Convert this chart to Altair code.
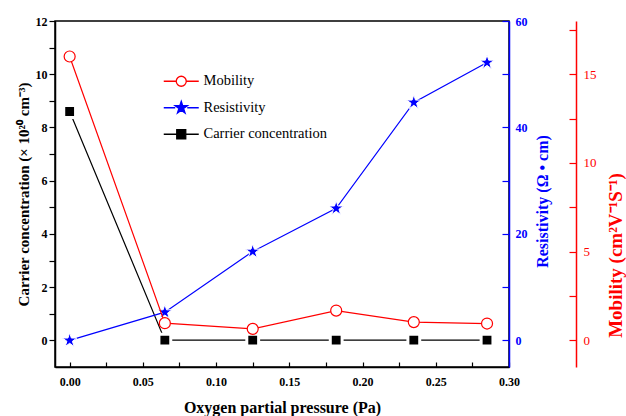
import altair as alt
import pandas as pd

# ---------------- data ----------------
pressure = [0.0, 0.065, 0.125, 0.182, 0.235, 0.285]
carrier = [8.6, 0.01, 0.01, 0.01, 0.01, 0.01]
resistivity = [0.0, 5.3, 16.7, 24.8, 44.7, 52.2]
mobility = [16.0, 0.97, 0.65, 1.68, 1.03, 0.95]

series_names = ["Mobility", "Resistivity", "Carrier concentration"]

x_ticks = [0.0, 0.025, 0.05, 0.075, 0.1, 0.125, 0.15, 0.175, 0.2, 0.225, 0.25, 0.275, 0.3]
carrier_ticks = [0, 1, 2, 3, 4, 5, 6, 7, 8, 9, 10, 11, 12]
resist_ticks = [0, 10, 20, 30, 40, 50, 60]
mobility_ticks = [0, 2.5, 5, 7.5, 10, 12.5, 15, 17.5]

# ---------------- styles ----------------
FONT = "Liberation Serif"
RED = "#ff0000"
BLUE = "#0000ff"
BLACK = "#000000"

STAR = ("M0,-1L0.225,-0.309L0.951,-0.309L0.363,0.118L0.588,0.809L0,0.382"
        "L-0.588,0.809L-0.363,0.118L-0.951,-0.309L-0.225,-0.309Z")
LEG_CIRCLE = "M-3.5,0H-1.05M1.05,0H3.5M1,0A1,1,0,1,1,-1,0A1,1,0,1,1,1,0Z"
LEG_STAR = ("M-3.5,0H-1.2M1.2,0H3.5"
            "M0,-1.3L0.29,-0.4L1.24,-0.4L0.47,0.15L0.76,1.05L0,0.5"
            "L-0.76,1.05L-0.47,0.15L-1.24,-0.4L-0.29,-0.4Z")
LEG_SQUARE = "M-3.5,0H-0.9M0.9,0H3.5M-0.9,-0.9H0.9V0.9H-0.9Z"

df = pd.DataFrame({
    "pressure": pressure,
    "carrier": carrier,
    "resistivity": resistivity,
    "mobility": mobility,
})

W, H = 454, 346

x_enc = alt.X(
    "pressure:Q",
    scale=alt.Scale(domain=[-0.01, 0.30], nice=False, zero=False),
    axis=alt.Axis(
        title="Oxygen partial pressure (Pa)",
        values=x_ticks,
        labelExpr="round(datum.value*1000) % 50 == 0 ? format(datum.value, '.2f') : ''",
        grid=False, labelFlush=False, labelOverlap=False,
        tickSize=alt.ExprRef(expr="-5"), tickWidth=1.2, tickColor=BLACK,
        labelPadding=14, labelFont=FONT, labelFontSize=12, labelFontWeight="bold",
        labelColor=BLACK,
        domainColor=BLACK, domainWidth=1.5,
        titleFont=FONT, titleFontSize=16, titleFontWeight="bold", titleColor=BLACK,
        titleX=227, titleY=40, titleBaseline="middle",
    ),
)

# ---- carrier concentration (left axis) ----
y_carrier = alt.Y(
    "carrier:Q",
    scale=alt.Scale(domain=[-1, 12], nice=False, zero=False),
    axis=alt.Axis(
        title="Carrier concentration (× 10²⁰ cm⁻³)",
        orient="left",
        values=carrier_ticks,
        labelExpr="datum.value % 2 == 0 ? datum.label : ''",
        grid=False, labelFlush=False, labelOverlap=False,
        tickSize=6, tickWidth=1.2, tickColor=BLACK, labelPadding=2,
        labelFont=FONT, labelFontSize=12, labelFontWeight="bold", labelColor=BLACK,
        domainColor=BLACK, domainWidth=1.5,
        titleFont=FONT, titleFontSize=15, titleFontWeight="bold", titleColor=BLACK,
        titleAngle=270, titleX=-24, titleY=173, titleBaseline="bottom", titleAlign="center",
    ),
)
carrier_base = alt.Chart(df).encode(x=x_enc, y=y_carrier)
carrier_line = carrier_base.mark_line(color=BLACK, strokeWidth=1.2)
carrier_pts = carrier_base.mark_point(shape="square", filled=True, size=140,
                                      fill=BLACK, stroke="white", strokeWidth=3, opacity=1)

legend = alt.Legend(
    title=None, orient="none", legendX=119, legendY=53, padding=0,
    symbolSize=100, symbolStrokeWidth=1.3, symbolOpacity=1,
    labelFont=FONT, labelFontSize=14.5,
    labelFontWeight="normal", labelColor=BLACK, labelOffset=15, rowPadding=9.5,
)
legend_df = pd.DataFrame({"series": series_names})
legend_layer = (
    alt.Chart(legend_df)
    .transform_filter("false")
    .mark_point(filled=True, size=100, opacity=1)
    .encode(
        shape=alt.Shape("series:N", scale=alt.Scale(domain=series_names,
                        range=[LEG_CIRCLE, LEG_STAR, LEG_SQUARE]), legend=legend),
        fill=alt.Fill("series:N", scale=alt.Scale(domain=series_names,
                      range=["white", BLUE, BLACK]), legend=legend),
        stroke=alt.Stroke("series:N", scale=alt.Scale(domain=series_names,
                          range=[RED, BLUE, BLACK]), legend=legend),
    )
)
carrier_layer = alt.layer(carrier_line, carrier_pts, legend_layer)

# ---- resistivity (right, blue) ----
y_resist = alt.Y(
    "resistivity:Q",
    scale=alt.Scale(domain=[-5, 60], nice=False, zero=False),
    axis=alt.Axis(
        title="Resistivity (Ω • cm)",
        orient="right",
        values=resist_ticks,
        labelExpr="datum.value % 20 == 0 ? datum.label : ''",
        grid=False, labelFlush=False, labelOverlap=False,
        tickSize=alt.ExprRef(expr="-7"), tickWidth=1.2, tickColor=BLUE, labelPadding=13,
        labelFont=FONT, labelFontSize=12, labelFontWeight="bold", labelColor=BLUE,
        domainColor=BLUE, domainWidth=1.5,
        titleFont=FONT, titleFontSize=16, titleFontWeight="bold", titleColor=BLUE,
        titleAngle=270, titleX=41, titleY=180, titleBaseline="bottom", titleAlign="center",
    ),
)
resist_base = alt.Chart(df).encode(x=x_enc, y=y_resist)
resist_line = resist_base.mark_line(color=BLUE, strokeWidth=1.2)
resist_pts = resist_base.mark_point(shape=STAR, filled=True, size=230,
                                    fill=BLUE, stroke="white", strokeWidth=1, opacity=1)
resist_layer = alt.layer(resist_line, resist_pts)

# ---- mobility (right, red, offset) ----
y_mob = alt.Y(
    "mobility:Q",
    scale=alt.Scale(domain=[-1.5, 18], nice=False, zero=False),
    axis=alt.Axis(
        title="Mobility (cm²V⁻¹S⁻¹)",
        orient="right", offset=67,
        values=mobility_ticks,
        labelExpr="datum.value % 5 == 0 ? datum.label : ''",
        grid=False, labelFlush=False, labelOverlap=False,
        tickSize=alt.ExprRef(expr="-7"), tickWidth=1.2, tickColor=RED, labelPadding=14,
        labelFont=FONT, labelFontSize=13, labelFontWeight="normal", labelColor=RED,
        domainColor=RED, domainWidth=1.5,
        titleFont=FONT, titleFontSize=19, titleFontWeight="bold", titleColor=RED,
        titleAngle=270, titleX=49, titleY=234, titleBaseline="bottom", titleAlign="center",
    ),
)
mob_base = alt.Chart(df).encode(x=x_enc, y=y_mob)
mob_line = mob_base.mark_line(color=RED, strokeWidth=1.2)
mob_pts = mob_base.mark_point(shape="circle", filled=True, size=121,
                              fill="white", stroke=RED, strokeWidth=1.2, opacity=1)
mob_layer = alt.layer(mob_line, mob_pts)

chart = (
    alt.layer(carrier_layer, resist_layer, mob_layer)
    .resolve_scale(y="independent", shape="shared", fill="shared", stroke="shared")
    .properties(
        width=W, height=H,
        autosize=alt.AutoSizeParams(type="none"),
        padding={"left": 55, "top": 21, "right": 117, "bottom": 49},
        background="white",
    )
    .configure_view(stroke=BLACK, strokeWidth=1.5)
)

chart.save("out.html", embed_options={"renderer": "svg", "actions": False})
